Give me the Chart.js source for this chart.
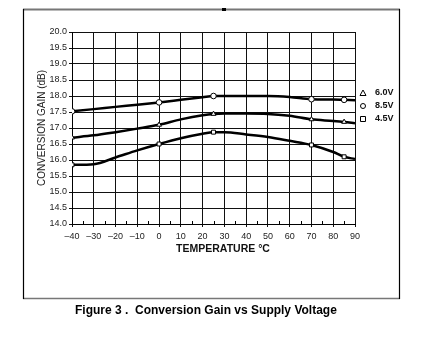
<!DOCTYPE html>
<html>
<head>
<meta charset="utf-8">
<script src="https://cdn.jsdelivr.net/npm/chart.js@4/dist/chart.umd.min.js"></script>
<style>
html,body{margin:0;padding:0;background:#fff;}
#wrap{position:relative;width:429px;height:361px;}
canvas{display:block;}
</style>
</head>
<body>
<div id="wrap"><canvas id="c" width="429" height="361"></canvas></div>
<script>
// ---- data ----
const temps = [-40, -30, -20, -10, 0, 10, 20, 25, 30, 40, 50, 60, 70, 80, 85, 90];
const gain6_0V = [16.70, 16.77, 16.87, 16.98, 17.10, 17.27, 17.40, 17.44, 17.45, 17.45, 17.44, 17.38, 17.27, 17.22, 17.19, 17.15];
const gain8_5V = [17.52, 17.59, 17.66, 17.73, 17.80, 17.88, 17.96, 18.00, 18.00, 18.00, 18.00, 17.97, 17.90, 17.89, 17.88, 17.87];
const gain4_5V = [15.85, 15.87, 16.08, 16.30, 16.50, 16.68, 16.82, 16.87, 16.87, 16.80, 16.72, 16.60, 16.47, 16.25, 16.10, 16.03];
const markerTemps = [-40, 0, 25, 70, 85];
const seriesLabels = ['6.0V', '8.5V', '4.5V'];
const seriesMarkers = ['triangle', 'circle', 'rect'];
const yTicks = [14.0, 14.5, 15.0, 15.5, 16.0, 16.5, 17.0, 17.5, 18.0, 18.5, 19.0, 19.5, 20.0];
const xTicks = [-40, -30, -20, -10, 0, 10, 20, 30, 40, 50, 60, 70, 80, 90];
const xTitle = 'TEMPERATURE \u00B0C';
const yTitle = 'CONVERSION GAIN (dB)';
const caption = 'Figure 3 .  Conversion Gain vs Supply Voltage';

const FONT = 'Arial, "Liberation Sans", sans-serif';

function mk(values, i) {
  return {
    label: seriesLabels[i],
    data: temps.map((t, k) => ({x: t, y: values[k]})),
    showLine: true,
    borderColor: '#000',
    borderWidth: 2.5,
    cubicInterpolationMode: 'monotone',
    pointStyle: seriesMarkers[i],
    pointRadius: ctx => markerTemps.includes(temps[ctx.dataIndex]) ? 2.8 : 0,
    pointBackgroundColor: '#fff',
    pointBorderColor: '#000',
    pointBorderWidth: 1,
    pointHoverRadius: 0
  };
}

const decor = {
  id: 'decor',
  afterDraw(chart) {
    const ctx = chart.ctx;
    const xs = chart.scales.x;
    const ca = chart.chartArea;
    ctx.save();
    // minor ticks on x axis (every 5)
    ctx.strokeStyle = '#000';
    ctx.lineWidth = 1;
    for (let t = -35; t < 90; t += 10) {
      const px = Math.round(xs.getPixelForValue(t)) + 0.5;
      ctx.beginPath();
      ctx.moveTo(px, ca.bottom);
      ctx.lineTo(px, ca.bottom - 3);
      ctx.stroke();
    }
    // x-axis title (offset right as in the original)
    ctx.font = 'bold 10.5px ' + FONT;
    ctx.fillStyle = '#111';
    ctx.textAlign = 'center';
    ctx.textBaseline = 'middle';
    ctx.fillText(xTitle, 223, 249);
    // outer frame
    ctx.strokeStyle = '#777';
    ctx.lineWidth = 2;
    ctx.beginPath(); ctx.moveTo(23, 9.5); ctx.lineTo(400, 9.5); ctx.stroke();
    ctx.lineWidth = 1.5;
    ctx.beginPath(); ctx.moveTo(23, 298.5); ctx.lineTo(400, 298.5); ctx.stroke();
    ctx.strokeStyle = '#000';
    ctx.lineWidth = 1.2;
    ctx.beginPath(); ctx.moveTo(23.5, 9); ctx.lineTo(23.5, 299); ctx.stroke();
    ctx.beginPath(); ctx.moveTo(399.5, 9); ctx.lineTo(399.5, 299); ctx.stroke();
    ctx.fillStyle = '#000';
    ctx.fillRect(222, 8, 4, 3);
    // legend
    const legY = [93, 106, 119];
    ctx.font = 'bold 9px ' + FONT;
    ctx.textBaseline = 'middle';
    ctx.textAlign = 'left';
    chart.data.datasets.forEach((ds, i) => {
      const y = legY[i];
      ctx.fillStyle = '#fff';
      ctx.strokeStyle = '#000';
      ctx.lineWidth = 1;
      ctx.beginPath();
      if (ds.pointStyle === 'triangle') {
        ctx.moveTo(363, y - 3); ctx.lineTo(366, y + 2.5); ctx.lineTo(360, y + 2.5); ctx.closePath();
      } else if (ds.pointStyle === 'circle') {
        ctx.arc(363, y, 2.5, 0, Math.PI * 2);
      } else {
        ctx.rect(360.5, y - 2.5, 5, 5);
      }
      ctx.fill(); ctx.stroke();
      ctx.fillStyle = '#111';
      ctx.fillText(ds.label, 375, y);
    });
    // caption
    ctx.font = 'bold 12px ' + FONT;
    ctx.fillStyle = '#000';
    ctx.textAlign = 'left';
    ctx.fillText(caption, 75, 311);
    ctx.restore();
  }
};

new Chart(document.getElementById('c'), {
  type: 'scatter',
  data: { datasets: [mk(gain6_0V, 0), mk(gain8_5V, 1), mk(gain4_5V, 2)] },
  options: {
    responsive: false,
    animation: false,
    devicePixelRatio: 1,
    layout: { padding: { left: 0, top: 32, right: 74, bottom: 97 } },
    plugins: { legend: { display: false }, tooltip: { enabled: false } },
    scales: {
      x: {
        type: 'linear',
        min: -40, max: 90,
        afterBuildTicks: s => { s.ticks = xTicks.map(v => ({value: v})); },
        afterFit: s => { s.height = 40; },
        grid: { color: '#111', lineWidth: 1, tickLength: 3, tickColor: '#111' },
        border: { color: '#000', width: 1 },
        ticks: {
          padding: 4,
          color: '#222',
          font: { family: FONT, size: 9 },
          callback: v => (v < 0 ? '\u2013' + Math.abs(v) : String(v)),
          maxRotation: 0, autoSkip: false
        },
        title: { display: false }
      },
      y: {
        type: 'linear',
        min: 14, max: 20,
        afterBuildTicks: s => { s.ticks = yTicks.map(v => ({value: v})); },
        afterFit: s => { s.width = 72; },
        grid: { color: '#111', lineWidth: 1, tickLength: 3, tickColor: '#111' },
        border: { color: '#000', width: 1 },
        ticks: {
          padding: 2,
          color: '#222',
          font: { family: FONT, size: 9 },
          callback: v => Number(v).toFixed(1),
          autoSkip: false
        },
        title: { display: true, text: yTitle, color: '#222', font: { family: FONT, size: 10 }, padding: { top: 36, bottom: 0 } }
      }
    }
  },
  plugins: [decor]
});
</script>
</body>
</html>
